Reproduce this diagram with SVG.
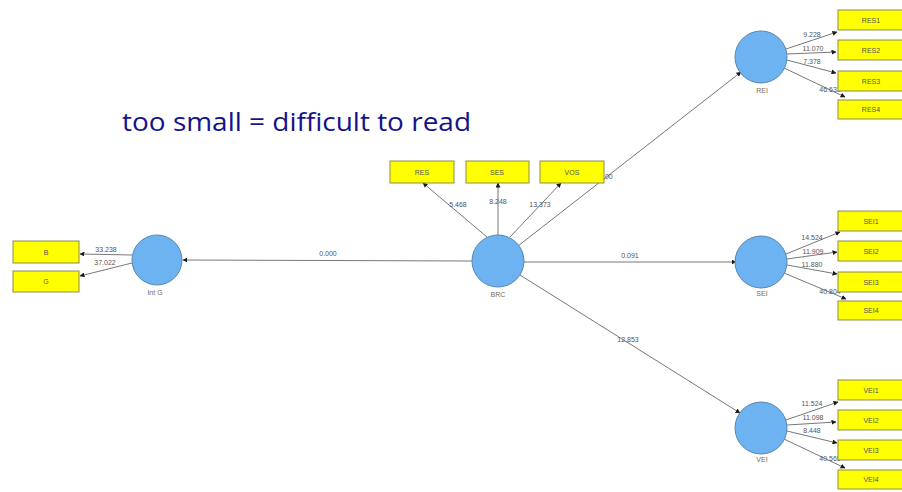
<svg xmlns="http://www.w3.org/2000/svg" width="902" height="492" viewBox="0 0 902 492">
<defs>
<marker id="ah" viewBox="0 0 10 10" refX="9" refY="5" markerWidth="5" markerHeight="5" orient="auto">
<path d="M0,0 L10,5 L0,10 z" fill="#1a1a1a"/>
</marker>
<style>
.c{fill:#6db3f2;stroke:#5b86ad;stroke-width:1}
.b{fill:#ffff00;stroke:#8c8c50;stroke-width:1}
.bt{font-family:"Liberation Sans",Arial,sans-serif;font-size:7px;fill:#555;text-anchor:middle}
.nl{font-family:"Liberation Sans",Arial,sans-serif;font-size:7px;fill:#7a6a55;text-anchor:middle}
.l{stroke:#777;stroke-width:1;fill:none;marker-end:url(#ah)}
.lt{font-family:"Liberation Sans",Arial,sans-serif;font-size:7px;fill:#555;text-anchor:middle}
</style>
</defs>
<rect width="902" height="492" fill="#ffffff"/>
<text x="122" y="131" font-family="'Open Sans','Liberation Sans',sans-serif" font-size="25" fill="#14148a" textLength="349" lengthAdjust="spacingAndGlyphs">too small = difficult to read</text>

<g id="connectors">
<line class="l" x1="472" y1="261" x2="183" y2="260"/>
<line class="l" x1="524" y1="262" x2="736" y2="262"/>
<line class="l" x1="518" y1="246" x2="741" y2="72"/>
<line class="l" x1="520" y1="275" x2="740" y2="413"/>
<line class="l" x1="487" y1="237" x2="423" y2="183"/>
<line class="l" x1="498" y1="235" x2="498" y2="183"/>
<line class="l" x1="510" y1="237" x2="561" y2="183"/>
<line class="l" x1="132" y1="255" x2="80" y2="254"/>
<line class="l" x1="132" y1="263" x2="80" y2="276"/>
<line class="l" x1="786" y1="49" x2="837" y2="32"/>
<line class="l" x1="787" y1="54" x2="836" y2="52"/>
<line class="l" x1="787" y1="60" x2="836" y2="73"/>
<line class="l" x1="784" y1="68" x2="845" y2="97"/>
<line class="l" x1="786" y1="254" x2="840" y2="232"/>
<line class="l" x1="787" y1="259" x2="837" y2="252"/>
<line class="l" x1="787" y1="265" x2="837" y2="274"/>
<line class="l" x1="784" y1="273" x2="846" y2="299"/>
<line class="l" x1="786" y1="420" x2="838" y2="402"/>
<line class="l" x1="787" y1="425" x2="836" y2="422"/>
<line class="l" x1="787" y1="431" x2="837" y2="443"/>
<line class="l" x1="784" y1="439" x2="845" y2="468"/>
<text class="lt" x="328" y="256">0.000</text>
<text class="lt" x="630" y="258">0.091</text>
<text class="lt" x="604" y="179">46.00</text>
<text class="lt" x="628" y="342">12.853</text>
<text class="lt" x="458" y="207">5.468</text>
<text class="lt" x="498" y="204">8.248</text>
<text class="lt" x="540" y="207">13.373</text>
<text class="lt" x="106" y="252">33.238</text>
<text class="lt" x="105" y="265">37.022</text>
<text class="lt" x="812" y="37">9.228</text>
<text class="lt" x="813" y="51">11.070</text>
<text class="lt" x="812" y="64">7.378</text>
<text class="lt" x="830" y="92">46.633</text>
<text class="lt" x="812" y="240">14.524</text>
<text class="lt" x="813" y="254">11.909</text>
<text class="lt" x="812" y="267">11.880</text>
<text class="lt" x="830" y="294">40.804</text>
<text class="lt" x="812" y="406">11.524</text>
<text class="lt" x="813" y="420">11.098</text>
<text class="lt" x="812" y="433">8.448</text>
<text class="lt" x="830" y="461">40.565</text>
</g>

<g id="IntG"><circle class="c" cx="157" cy="260" r="25"/><text class="nl" x="155" y="295">Int G</text></g>
<g id="BRC"><circle class="c" cx="498" cy="261" r="26"/><text class="nl" x="498" y="297">BRC</text></g>
<g id="REI"><circle class="c" cx="761" cy="57" r="26"/><text class="nl" x="762" y="93">REI</text></g>
<g id="SEI"><circle class="c" cx="761" cy="262" r="26"/><text class="nl" x="762" y="296">SEI</text></g>
<g id="VEI"><circle class="c" cx="761" cy="428" r="26"/><text class="nl" x="762" y="462">VEI</text></g>

<g id="B"><rect class="b" x="13" y="241" width="66" height="22"/><text class="bt" x="46" y="255">B</text></g>
<g id="G"><rect class="b" x="13" y="271" width="66" height="21"/><text class="bt" x="46" y="284">G</text></g>

<g id="RES"><rect class="b" x="390" y="161" width="64" height="22"/><text class="bt" x="422" y="175">RES</text></g>
<g id="SES"><rect class="b" x="466" y="161" width="63" height="22"/><text class="bt" x="497" y="175">SES</text></g>
<g id="VOS"><rect class="b" x="540" y="161" width="64" height="22"/><text class="bt" x="572" y="175">VOS</text></g>

<g id="RES1"><rect class="b" x="838" y="10" width="70" height="20"/><text class="bt" x="871" y="23">RES1</text></g>
<g id="RES2"><rect class="b" x="838" y="40" width="70" height="20"/><text class="bt" x="871" y="53">RES2</text></g>
<g id="RES3"><rect class="b" x="838" y="71" width="70" height="20"/><text class="bt" x="871" y="84">RES3</text></g>
<g id="RES4"><rect class="b" x="838" y="100" width="70" height="19"/><text class="bt" x="871" y="112">RES4</text></g>

<g id="SEI1"><rect class="b" x="838" y="211" width="70" height="20"/><text class="bt" x="871" y="224">SEI1</text></g>
<g id="SEI2"><rect class="b" x="838" y="241" width="70" height="20"/><text class="bt" x="871" y="254">SEI2</text></g>
<g id="SEI3"><rect class="b" x="838" y="272" width="70" height="20"/><text class="bt" x="871" y="285">SEI3</text></g>
<g id="SEI4"><rect class="b" x="838" y="301" width="70" height="19"/><text class="bt" x="871" y="313">SEI4</text></g>

<g id="VEI1"><rect class="b" x="838" y="380" width="70" height="20"/><text class="bt" x="871" y="393">VEI1</text></g>
<g id="VEI2"><rect class="b" x="838" y="410" width="70" height="20"/><text class="bt" x="871" y="423">VEI2</text></g>
<g id="VEI3"><rect class="b" x="838" y="440" width="70" height="20"/><text class="bt" x="871" y="453">VEI3</text></g>
<g id="VEI4"><rect class="b" x="838" y="470" width="70" height="19"/><text class="bt" x="871" y="482">VEI4</text></g>
</svg>
